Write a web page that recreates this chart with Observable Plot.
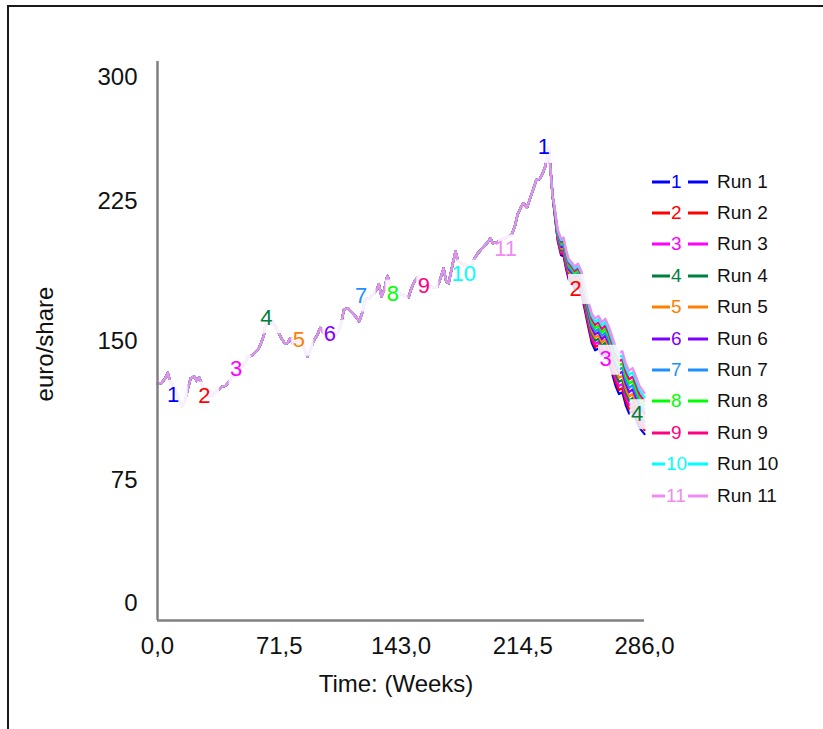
<!DOCTYPE html>
<html><head><meta charset="utf-8">
<script src="https://cdn.jsdelivr.net/npm/d3@7"></script>
<script src="https://cdn.jsdelivr.net/npm/@observablehq/plot@0.6"></script>
<style>
body{margin:0;background:#fff;font-family:"Liberation Sans",Arial,sans-serif;}
#wrap{position:relative;width:823px;height:729px;overflow:hidden;background:#fff;}
#frame{position:absolute;left:7px;top:5px;width:900px;height:800px;border-top:2px solid #1a1a1a;border-left:2px solid #1a1a1a;}
#chart{position:absolute;left:0;top:0;}
#legend{position:absolute;left:652px;top:166px;}
.row{position:relative;height:31.4px;width:140px;font-size:19px;color:#111;}
.row > *{position:absolute;top:50%;transform:translateY(-50%);}
.seg{height:3px;}
</style></head><body>
<div id="wrap"><div id="frame"></div><div id="chart"></div><div id="legend"></div></div>
<script>
// Run identifiers and colours
const runIds = [1,2,3,4,5,6,7,8,9,10,11];
const runColors = ["#0000ff","#ff0000","#ff00ff","#008040","#ff8000","#8000ff","#1e90ff","#00ff00","#ff0080","#00ffff","#f08cf0"];

// Shared path (identical for all runs) before the split, weeks and euro/share
const preWeeks = [0,2.5,4.5,6,7.5,9,11,13,14.5,16.5,18,19.5,21.5,23,24.5,26,28,30,32,34,36,38,40,42,44,46,48.5,50.5,53,55,57,59.5,61.5,62.5,63.5,65.5,67.5,69,71,73,75,76.5,78,79.5,82,84.5,86.5,88,90,92,94,95.5,97.5,100,103,106,108,109.5,112,114.5,116.5,118.5,120.5,122,124.5,127,129,130,131.5,133,135,137,139,142,145,147.5,149,151,153,155.5,158,161,164,166,168,169.5,171,173.5,175,176.5,179,181.5,184,186,188,190.5,193,195.5,197,199.5,202,205,208,210,211.5,213.5,215,217,219,220.5,222.5,224.5,226,227.5,229,229.8,231,232];
const prePrice = [127,127.5,130,133,128,126.5,122,117,115,119,125,130,131,128.5,130.5,127,122,120,120.5,122.5,124,125.5,126,128,131.5,131,135.5,136.5,141.5,142,143.5,146,150.5,153,160.5,159.5,160.5,158,154.5,151,148.5,149,151.5,148.5,149.5,150,145,141.5,146,150.5,153.5,157,154.5,151.5,152,154.5,160,167,167.5,165,163,160.5,166,172.5,173,175.5,178,180.5,174,177,185,180,177,175.5,174.5,173.5,178,182,184.5,180,179,179,178.5,183,189,182,181,192,198,193,191.5,190.5,189.5,194,197,199.5,202,205,202.5,203,204.5,205.5,207,212,218,222,224,221.5,227,231,236.5,237,239.5,243,250,254,240,228];

// After the split: weeks and each run's values
const postWeeks = [233,235,237,238.5,240,241.5,243.5,245,247,249,251,253,255,257,259,261,263,265,267,269,271,273,275,277,279,281,283,286];
const run1  = [220,204,196,195.5,188.5,183,180.5,178,179.5,175,166.5,157.5,149,145,146,142,143.5,139,132.5,126,121.5,122.5,115.5,111,112.5,108,103.5,100];
const run2  = [220.3,204.6,196.9,196.5,189.6,184.1,181.7,179.2,180.7,176.3,167.8,158.9,150.6,146.7,147.8,143.8,145.4,140.9,134.5,128.1,123.7,124.7,117.8,113.3,114.8,110.3,105.8,102.2];
const run3  = [220.6,205.2,197.8,197.5,190.6,185.2,182.8,180.4,181.9,177.5,169.1,160.3,152.2,148.4,149.5,145.6,147.2,142.8,136.5,130.2,125.9,126.9,120,115.6,117.1,112.6,108,104.4];
const run4  = [220.9,205.8,198.7,198.5,191.7,186.3,184,181.6,183.1,178.8,170.4,161.7,153.8,150.1,151.3,147.4,149.1,144.7,138.5,132.3,128.1,129.1,122.3,117.9,119.4,114.9,110.3,106.6];
const run5  = [221.2,206.4,199.6,199.5,192.7,187.4,185.1,182.8,184.3,180,171.7,163.1,155.4,151.8,153,149.2,150.9,146.6,140.5,134.4,130.3,131.3,124.5,120.2,121.7,117.2,112.5,108.8];
const run6  = [221.5,207,200.5,200.5,193.8,188.5,186.3,184,185.5,181.3,173,164.5,157,153.5,154.8,151,152.8,148.5,142.5,136.5,132.5,133.5,126.8,122.5,124,119.5,114.8,111];
const run7  = [221.8,207.6,201.4,201.5,194.8,189.6,187.4,185.2,186.7,182.5,174.3,165.9,158.6,155.2,156.5,152.8,154.6,150.4,144.5,138.6,134.7,135.7,129,124.8,126.3,121.8,117,113.2];
const run8  = [222.1,208.2,202.3,202.5,195.9,190.7,188.6,186.4,187.9,183.8,175.6,167.3,160.2,156.9,158.3,154.6,156.5,152.3,146.5,140.7,136.9,137.9,131.3,127.1,128.6,124.1,119.3,115.4];
const run9  = [222.4,208.8,203.2,203.5,196.9,191.8,189.7,187.6,189.1,185,176.9,168.7,161.8,158.6,160,156.4,158.3,154.2,148.5,142.8,139.1,140.1,133.5,129.4,130.9,126.4,121.5,117.6];
const run10 = [222.7,209.4,204.1,204.5,198,192.9,190.9,188.8,190.3,186.3,178.2,170.1,163.4,160.3,161.8,158.2,160.2,156.1,150.5,144.9,141.3,142.3,135.8,131.7,133.2,128.7,123.8,119.8];
const run11 = [223,210,205,205.5,199,194,192,190,191.5,187.5,179.5,171.5,165,162,163.5,160,162,158,152.5,147,143.5,144.5,138,134,135.5,131,126,122];
const postRuns = [run1,run2,run3,run4,run5,run6,run7,run8,run9,run10,run11];

// Run labels drawn along the curves
const labelRun   = [1,2,3,4,5,6,7,8,9,10,11,1,2,3,4];
const labelWeek  = [9.2,27.6,46.2,64,83,101.3,119.6,138.2,156.4,179.9,204.4,226.9,245.5,263.1,281.7];
const labelPrice = [121.3,120.4,134.9,162.5,150.4,153.6,174.2,175.1,179.6,185.9,199.3,253.9,178.2,140.2,111];

// Axis ticks
const yTicks = [0,75,150,225,300];
const xTicks = [0,71.5,143,214.5,286];

const rows = [];
runIds.forEach((r, k) => {
  preWeeks.forEach((t, i) => rows.push({run: r, t, v: prePrice[i]}));
  postWeeks.forEach((t, i) => rows.push({run: r, t, v: postRuns[k][i]}));
});
const labels = labelRun.map((r, i) => ({run: r, t: labelWeek[i], v: labelPrice[i]}));
const lab1 = labels.filter(d => d.run < 10);
const lab2 = labels.filter(d => d.run >= 10);

const fmt = d => d.toFixed(1).replace(".", ",");
const FS = 24;
const chart = Plot.plot({
  width: 823, height: 729,
  marginLeft: 157, marginRight: 179, marginTop: 61, marginBottom: 109,
  x: {domain: [0, 286], axis: null},
  y: {domain: [0, 300], axis: null},
  color: {type: "ordinal", domain: runIds, range: runColors},
  style: {fontFamily: "Liberation Sans, Arial, sans-serif", fontSize: FS + "px", color: "#111", background: "transparent", overflow: "visible"},
  marks: [
    Plot.line(rows, {x: "t", y: "v", z: "run", stroke: "run", strokeWidth: 2.2}),
    Plot.rect(lab1, {x1: "t", x2: "t", y1: "v", y2: "v", fill: "white", fillOpacity: 0.85, insetLeft: -7, insetRight: -15, insetTop: -14, insetBottom: -16}),
    Plot.rect(lab2, {x1: "t", x2: "t", y1: "v", y2: "v", fill: "white", fillOpacity: 0.85, insetLeft: -7, insetRight: -27, insetTop: -14, insetBottom: -16}),
    Plot.text(labels, {x: "t", y: "v", text: d => String(d.run), fill: "run", fontSize: 22}),
    Plot.ruleX([0], {stroke: "#808080", strokeWidth: 2.5}),
    Plot.ruleY([0], {stroke: "#808080", strokeWidth: 2.5}),
    Plot.axisY(yTicks.slice(1, 4), {tickSize: 0, tickPadding: 20, fontSize: FS, label: null}),
    Plot.axisY(yTicks.slice(4), {tickSize: 0, tickPadding: 20, fontSize: FS, label: null, dy: 16}),
    Plot.axisY(yTicks.slice(0, 1), {tickSize: 0, tickPadding: 20, fontSize: FS, label: null, dy: -17}),
    Plot.axisX(xTicks, {tickSize: 0, tickPadding: 16, fontSize: FS, label: null, tickFormat: fmt}),
    Plot.text(["euro/share"], {frameAnchor: "left", textAnchor: "middle", lineAnchor: "middle", rotate: -90, dx: -112, dy: 3, fontSize: FS}),
    Plot.text(["Time: (Weeks)"], {frameAnchor: "bottom", textAnchor: "middle", lineAnchor: "middle", dx: -5, dy: 64, fontSize: FS})
  ]
});
document.getElementById("chart").appendChild(chart);

const leg = document.getElementById("legend");
runIds.forEach((r, k) => {
  const c = runColors[k];
  const w = r < 10 ? 18 : 13;
  const row = document.createElement("div");
  row.className = "row";
  row.innerHTML =
    `<span class="seg" style="left:0;width:${w}px;background:${c}"></span>` +
    `<span style="left:${w + 1}px;color:${c}">${r}</span>` +
    `<span class="seg" style="left:36px;width:20px;background:${c}"></span>` +
    `<span style="left:65px">Run ${r}</span>`;
  leg.appendChild(row);
});
</script>
</body></html>
